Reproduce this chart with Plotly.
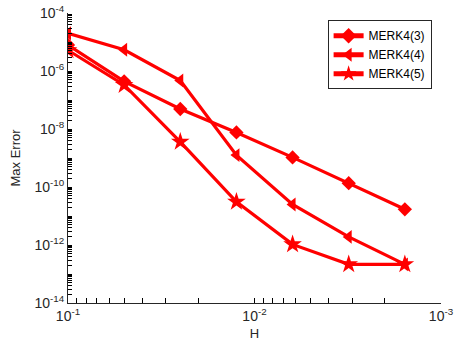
import plotly.graph_objects as go

H = [0.1, 0.05, 0.025, 0.0125, 0.00625, 0.003125, 0.0015625]
err_merk43 = [7.9e-6, 4.4e-7, 4.9e-8, 7.6e-9, 1.05e-9, 1.35e-10, 1.7e-11]
err_merk44 = [2.0e-5, 5.4e-6, 4.7e-7, 1.26e-9, 2.5e-11, 1.9e-12, 2.15e-13]
err_merk45 = [5.2e-6, 3.3e-7, 3.6e-9, 3.1e-11, 1.05e-12, 2.15e-13, 2.15e-13]
names = ["MERK4(3)", "MERK4(4)", "MERK4(5)"]
symbols = ["diamond", "triangle-left", "star"]
sizes = [11, 12, 14]

x_exps = [-1, -2, -3]
y_exps = list(range(-4, -15, -2))

def sup(e):
    return "10<sup>%d</sup>" % e

x_vals, x_text = [], []
for e in (-3, -2):
    for k in range(1, 10):
        x_vals.append(k * 10.0 ** e)
        x_text.append(sup(e) if k == 1 else "")
x_vals.append(0.1)
x_text.append(sup(-1))

y_vals, y_text = [], []
for e in range(-14, -4):
    for k in range(1, 10):
        y_vals.append(k * 10.0 ** e)
        y_text.append(sup(e) if (k == 1 and e in y_exps) else "")
y_vals.append(1e-4)
y_text.append(sup(-4))

fig = go.Figure()
for name, ys, sym, sz in zip(names, [err_merk43, err_merk44, err_merk45], symbols, sizes):
    fig.add_trace(go.Scatter(
        x=H, y=ys, name=name, mode="lines+markers",
        line=dict(color="#ff0000", width=3.2),
        marker=dict(symbol=sym, size=sz, color="#ff0000", line=dict(width=0)),
    ))

font = dict(family="Liberation Sans, Arial, sans-serif", size=12, color="#262626")
tc = "#262626"
fig.update_layout(
    width=457, height=344,
    margin=dict(l=68, r=16, t=13, b=41, autoexpand=False),
    paper_bgcolor="white", plot_bgcolor="white",
    font=font,
    showlegend=True,
    legend=dict(x=0.696, y=0.975, xanchor="left", yanchor="top",
                bordercolor=tc, borderwidth=1, bgcolor="white",
                font=dict(family="Liberation Sans, Arial, sans-serif", size=12, color="#000"),
                tracegroupgap=0, itemwidth=30, itemsizing="constant"),
    xaxis=dict(type="log", range=[-1, -3], showgrid=False, zeroline=False, automargin=False,
               showline=True, linecolor=tc, linewidth=1, mirror=False,
               tickmode="array", tickvals=x_vals, ticktext=x_text,
               ticks="inside", ticklen=5, tickwidth=1.2, tickcolor="#000000",
               tickfont=dict(size=14),
               title=dict(text="H", standoff=6, font=dict(size=13))),
    yaxis=dict(type="log", range=[-14, -4], showgrid=False, zeroline=False, automargin=False,
               showline=True, linecolor=tc, linewidth=1, mirror=False,
               tickmode="array", tickvals=y_vals, ticktext=y_text,
               ticks="inside", ticklen=4, tickwidth=1, tickcolor="#000000",
               tickfont=dict(size=14),
               title=dict(text="Max Error", standoff=10, font=dict(size=13))),
)
fig.write_html("out.html")
